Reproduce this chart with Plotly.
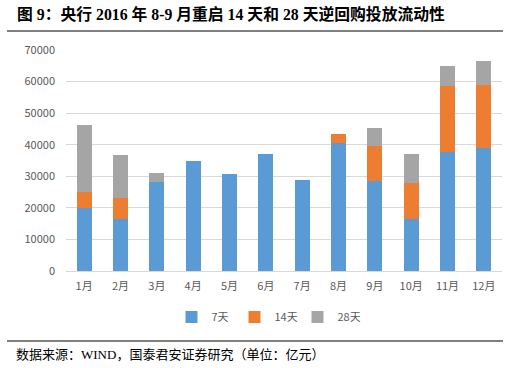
import plotly.graph_objects as go

months = ["1月", "2月", "3月", "4月", "5月", "6月", "7月", "8月", "9月", "10月", "11月", "12月"]
d7 = [20000, 16400, 28200, 34800, 30700, 37000, 28700, 40600, 28600, 16400, 37800, 38900]
d14 = [5000, 6800, 0, 0, 0, 0, 0, 2800, 10900, 11600, 20900, 20100]
d28 = [21400, 13500, 2700, 0, 0, 0, 0, 0, 5900, 9100, 6200, 7400]
yticks = [0, 10000, 20000, 30000, 40000, 50000, 60000, 70000]

fig = go.Figure()
fig.add_bar(x=months, y=d7, name="7天", marker=dict(color="#5B9BD5", line=dict(width=0)))
fig.add_bar(x=months, y=d14, name="14天", marker=dict(color="#ED7D31", line=dict(width=0)))
fig.add_bar(x=months, y=d28, name="28天", marker=dict(color="#A5A5A5", line=dict(width=0)))

font_cjk = "Noto Sans CJK SC, Noto Sans, sans-serif"
font_title = "Liberation Serif, Noto Sans CJK SC, serif"
W, H = 515, 368
PL, PT, PR, PB = 66, 50, 502, 271


def fx(x):
    return x / W


def fy(y):
    return 1 - y / H


# decorative rules under the title and above the source note (page pixel frame)
fig.add_scatter(x=[7, 503, None, 7, 503], y=[31, 31, None, 341, 341],
                mode="lines", line=dict(color="black", width=1.2),
                xaxis="x2", yaxis="y2", showlegend=False, hoverinfo="skip")

fig.update_layout(
    barmode="stack",
    bargap=0.59,
    width=W, height=H,
    paper_bgcolor="white", plot_bgcolor="rgba(0,0,0,0)",
    margin=dict(l=0, r=0, t=0, b=0, pad=0, autoexpand=False),
    font=dict(family=font_cjk, size=11, color="#595959"),
    showlegend=True,
    legend=dict(orientation="h", x=fx(266), xanchor="center",
                y=fy(317), yanchor="middle",
                font=dict(size=11, color="#595959"), traceorder="normal",
                entrywidth=18, entrywidthmode="pixels", itemwidth=30),
    xaxis=dict(domain=[fx(PL), fx(PR)], showgrid=False, showline=True,
               linecolor="#D9D9D9", linewidth=1,
               ticks="", tickfont=dict(size=11, color="#595959"), automargin=False,
               ticklabelstandoff=5),
    yaxis=dict(domain=[fy(PB), fy(PT)], range=[0, 70000], tickvals=yticks,
               showgrid=True, gridcolor="#D9D9D9",
               gridwidth=1, zeroline=False, ticks="", tickformat="d", automargin=False,
               tickfont=dict(size=11, color="#595959"), ticklabelstandoff=10),
    xaxis2=dict(domain=[0, 1], range=[0, W], visible=False, anchor="y2",
                fixedrange=True),
    yaxis2=dict(domain=[0, 1], range=[H, 0], visible=False, anchor="x2",
                fixedrange=True),
    annotations=[
        dict(text="<b>图 9：央行 2016 年 8-9 月重启 14 天和 28 天逆回购投放流动性</b>",
             xref="paper", yref="paper", x=fx(15), y=fy(14),
             xanchor="left", yanchor="middle", showarrow=False,
             font=dict(family=font_title, size=15.8, color="black")),
        dict(text="数据来源：WIND，国泰君安证券研究（单位：亿元）",
             xref="paper", yref="paper", x=fx(14), y=fy(354),
             xanchor="left", yanchor="middle", showarrow=False,
             font=dict(family=font_title, size=13, color="black")),
    ],
)

fig.write_html("out.html", config={"displayModeBar": False},
               post_script="document.body.style.margin='0';document.body.style.padding='0';document.body.style.overflow='hidden';")
